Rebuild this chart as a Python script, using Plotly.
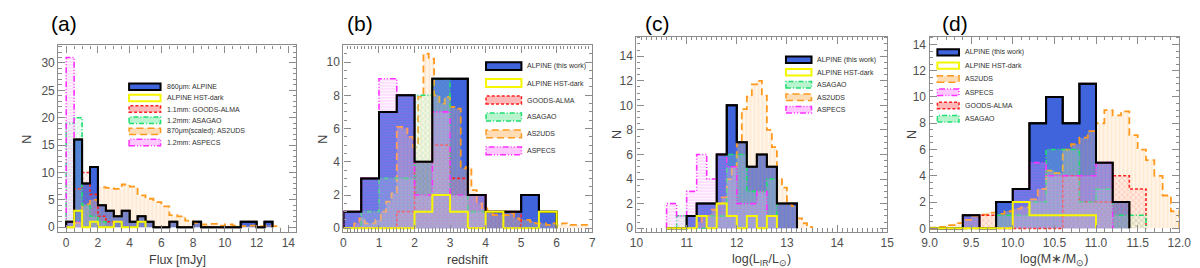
import numpy as np
import plotly.graph_objects as go

W, H = 1200, 268

# ---------------- data ----------------
# Panel (a): 860um / 1.1mm / 1.2mm flux, bins of 0.5 mJy from 0
flux_start, flux_width = 0.0, 0.5
flux_alpine = [1, 16, 8, 11, 4, 3, 2, 3, 1, 2, 1, 0, 0, 1, 0, 0, 1, 0, 0, 0, 0, 0, 1, 1, 0, 1]
flux_hstdark = [0, 3, 0, 1, 0, 0, 1, 0, 0, 1]
flux_goods = [1, 7, 10, 6, 2, 1]
flux_asagao = [19, 20, 4, 2, 1]
flux_aspecs = [31, 1]
flux_as2uds = [0, 0.8, 4.2, 5.0, 7.3, 7.2, 7.0, 7.8, 7.4, 5.8, 5.2, 4.6, 3.8, 2.2, 2.0, 1.2,
               0.8, 0.5, 0.6, 0.3, 0.5, 0.3, 0.2, 0.3, 0.2, 0.3, 0.2]

# Panel (b): redshift, bins of 0.5 from 0
z_start, z_width = 0.0, 0.5
z_alpine = [1, 3, 7, 8, 4, 9, 9, 2, 1, 1, 2, 1]
z_hstdark = [0, 0, 0, 0, 1, 2, 1, 0, 1, 0, 0, 1]
z_goods = [0, 0, 0, 1, 4, 5, 3, 2, 1, 1]
z_asagao = [0, 1, 3, 3, 8, 9, 2, 1]
z_aspecs = [1, 3, 9, 8, 2, 7, 2, 2]
z_as2uds_start, z_as2uds_width = 0.3, 0.15
z_as2uds = [0.3, 0.6, 0.3, 0.3, 0.5, 1.0, 1.6, 2.1, 6.1, 6.0, 5.5, 4.9, 7.9, 10.5, 10.2, 8.0,
            7.5, 7.9, 7.3, 7.2, 3.6, 3.7, 2.3, 1.5, 1.2, 1.0, 0.8, 0.8, 0.8, 0.9, 0.6, 0.5,
            0.5, 0.4, 0.3, 0.3, 0.2, 0.3, 0.2, 0.3, 0.2, 0.2, 0.2, 0.2]

# Panel (c): log(L_IR/Lsun), bins of 0.2 from 10.6
lir_start, lir_width = 10.6, 0.2
lir_alpine = [0, 0, 1, 2, 2, 6, 10, 7, 5, 6, 5, 2, 2]
lir_hstdark = [0, 0, 0, 1, 0, 2, 1, 0, 1, 0, 1]
lir_asagao = [0, 1, 0, 0, 1, 1, 6, 6, 3, 3, 4]
lir_aspecs = [2, 1, 3, 6, 4, 6, 5, 2, 2, 3, 1]
lir_as2uds_start, lir_as2uds_width = 11.2, 0.1
lir_as2uds = [0.5, 1.0, 1.0, 1.5, 2.0, 2.5, 4.0, 5.0, 7.0, 9.7, 10.7, 11.7, 12.0, 10.8, 8.0,
              6.6, 4.0, 3.3, 2.0, 1.8, 0.8, 0.4, 0.1]

# Panel (d): log(M*/Msun), bins of 0.2 from 9.0
ms_start, ms_width = 9.0, 0.2
ms_alpine = [0, 0, 1, 0, 2, 3, 8, 10, 8, 11, 5, 2]
ms_hstdark = [0, 0, 0, 0, 0, 2, 1, 1, 1, 1]
ms_aspecs = [0, 0, 1, 0, 0, 3, 5, 4, 4, 4, 5]
ms_goods = [0, 0, 0, 1, 0, 0, 0, 0, 4, 2, 2, 4, 3]
ms_asagao = [0, 0, 0, 0, 1, 1, 2, 6, 6, 2, 3, 1, 1]
ms_as2uds_start, ms_as2uds_width = 9.0, 0.1
ms_as2uds = [0.05, 0.1, 0.25, 0.4, 0.65, 0.95, 1.05, 1.2, 1.1, 1.3, 1.5, 1.6, 2.2, 3.0, 4.4,
             4.2, 6.0, 6.4, 6.9, 7.4, 8.0, 9.0, 8.6, 8.9, 7.1, 6.0, 5.2, 4.0, 2.5, 1.3]

legend_a = ["860μm: ALPINE", "ALPINE HST-dark", "1.1mm: GOODS-ALMA", "1.2mm: ASAGAO",
            "870μm(scaled): AS2UDS", "1.2mm: ASPECS"]
legend_b = ["ALPINE (this work)", "ALPINE HST-dark", "GOODS-ALMA", "ASAGAO", "AS2UDS", "ASPECS"]
legend_c = ["ALPINE (this work)", "ALPINE HST-dark", "ASAGAO", "AS2UDS", "ASPECS"]
legend_d = ["ALPINE (this work)", "ALPINE HST-dark", "AS2UDS", "ASPECS", "GOODS-ALMA", "ASAGAO"]

# ---------------- styles ----------------
BLUE = "#3f64dc"
STY = {
    "alpine": dict(lc="black", lw=2.0, dash="solid", swatch=BLUE),
    "hst": dict(lc="#f6f600", lw=2.0, dash="solid", swatch="white"),
    "goods": dict(lc="#ff2020", lw=1.6, dash="3px,2px", swatch="#ffb8b8",
                  pat=dict(shape="x", fgcolor="rgba(255,40,40,0.55)", bgcolor="rgba(255,190,190,0.12)",
                           size=4, solidity=0.25)),
    "asagao": dict(lc="#20dd70", lw=1.6, dash="5px,2px,1px,2px", swatch="#b8f5cf",
                   pat=dict(shape="x", fgcolor="rgba(40,215,110,0.55)", bgcolor="rgba(190,255,215,0.18)",
                            size=4, solidity=0.25)),
    "as2uds": dict(lc="#ff9a1e", lw=1.8, dash="7px,4px", swatch="#ffdcb4",
                   pat=dict(shape="|", fgcolor="rgba(255,160,70,0.45)", bgcolor="rgba(255,215,170,0.25)",
                            size=4, solidity=0.3)),
    "aspecs": dict(lc="#ff30ff", lw=1.6, dash="6px,2px,1px,2px,1px,2px", swatch="#ffc8ff",
                   pat=dict(shape="-", fgcolor="rgba(255,70,255,0.5)", bgcolor="rgba(255,205,255,0.2)",
                            size=3, solidity=0.3)),
}

fig = go.Figure()


def step_xy(start, width, counts):
    counts = np.asarray(counts, dtype=float)
    e = start + width * np.arange(len(counts) + 1)
    x = np.concatenate([[e[0]], e[:-1], [e[-1]]])
    y = np.concatenate([[0.0], counts, [0.0]])
    return x, y


def add_hist(key, start, width, counts, xa, ya, outline_only=False):
    s = STY[key]
    x, y = step_xy(start, width, counts)
    kw = dict(x=x, y=y, mode="lines", line=dict(color=s["lc"], width=s["lw"], dash=s["dash"], shape="hv"),
              xaxis=xa, yaxis=ya, showlegend=False, hoverinfo="skip")
    if not outline_only:
        if key == "alpine":
            kw.update(fill="tozeroy", fillcolor=BLUE)
        elif "pat" in s:
            kw.update(fill="tozeroy", fillcolor="rgba(0,0,0,0)", fillpattern=s["pat"])
    fig.add_trace(go.Scatter(**kw))


# panel (a)
add_hist("alpine", flux_start, flux_width, flux_alpine, "x", "y")
add_hist("as2uds", flux_start, flux_width, flux_as2uds, "x", "y")
add_hist("goods", flux_start, flux_width, flux_goods, "x", "y")
add_hist("asagao", flux_start, flux_width, flux_asagao, "x", "y")
add_hist("aspecs", flux_start, flux_width, flux_aspecs, "x", "y")
add_hist("alpine", flux_start, flux_width, flux_alpine, "x", "y", outline_only=True)
add_hist("hst", flux_start, flux_width, flux_hstdark, "x", "y")

# panel (b)
add_hist("alpine", z_start, z_width, z_alpine, "x2", "y2")
add_hist("as2uds", z_as2uds_start, z_as2uds_width, z_as2uds, "x2", "y2")
add_hist("goods", z_start, z_width, z_goods, "x2", "y2")
add_hist("asagao", z_start, z_width, z_asagao, "x2", "y2")
add_hist("aspecs", z_start, z_width, z_aspecs, "x2", "y2")
add_hist("alpine", z_start, z_width, z_alpine, "x2", "y2", outline_only=True)
add_hist("hst", z_start, z_width, z_hstdark, "x2", "y2")

# panel (c)
add_hist("alpine", lir_start, lir_width, lir_alpine, "x3", "y3")
add_hist("as2uds", lir_as2uds_start, lir_as2uds_width, lir_as2uds, "x3", "y3")
add_hist("asagao", lir_start, lir_width, lir_asagao, "x3", "y3")
add_hist("aspecs", lir_start, lir_width, lir_aspecs, "x3", "y3")
add_hist("alpine", lir_start, lir_width, lir_alpine, "x3", "y3", outline_only=True)
add_hist("hst", lir_start, lir_width, lir_hstdark, "x3", "y3")

# panel (d)
add_hist("alpine", ms_start, ms_width, ms_alpine, "x4", "y4")
add_hist("as2uds", ms_as2uds_start, ms_as2uds_width, ms_as2uds, "x4", "y4")
add_hist("goods", ms_start, ms_width, ms_goods, "x4", "y4")
add_hist("asagao", ms_start, ms_width, ms_asagao, "x4", "y4")
add_hist("aspecs", ms_start, ms_width, ms_aspecs, "x4", "y4")
add_hist("alpine", ms_start, ms_width, ms_alpine, "x4", "y4", outline_only=True)
add_hist("hst", ms_start, ms_width, ms_hstdark, "x4", "y4")

# ---------------- axes ----------------
def px(x):
    return x / W


def py(y):
    return 1 - y / H


FRAME = "#8c8c8c"
TICKFONT = dict(family="Liberation Sans, Arial, sans-serif", size=12, color="#505050")

panels = [
    # xaxis, yaxis, x-domain px, y-domain px, xrange, yrange, xdtick, xminor, ydtick, yminor
    ("xaxis", "yaxis", (43, 285), (38, 227), [-0.5, 14.5], [-0.8, 33.2], 2, 0.5, 5, 1),
    ("xaxis2", "yaxis2", (333, 586), (38, 227), [0, 7], [-0.2, 11.0], 1, 0.1, 2, 0.5),
    ("xaxis3", "yaxis3", (631, 886), (29, 227), [10, 15], [-0.28, 15.6], 1, 0.1, 2, 0.5),
    ("xaxis4", "yaxis4", (929, 1183), (29, 227), [9, 12], [-0.25, 14.6], 0.5, 0.1, 2, 0.5),
]
layout_axes = {}
for i, (xa, ya, xd, yd, xr, yr, xdt, xmn, ydt, ymn) in enumerate(panels):
    n = "" if i == 0 else str(i + 1)
    common = dict(showline=True, linecolor=FRAME, linewidth=1.2, mirror="allticks", ticks="inside",
                  ticklen=7, tickwidth=1, tickcolor=FRAME, showgrid=False, zeroline=False,
                  tickfont=TICKFONT)
    layout_axes[xa] = dict(common, domain=[px(xd[0]), px(xd[1])], range=xr, anchor="y" + n,
                           tick0=xr[0] if i > 0 else 0, dtick=xdt,
                           minor=dict(ticks="inside", ticklen=3.5, tickcolor=FRAME, dtick=xmn))
    layout_axes[ya] = dict(common, domain=[py(yd[1]), py(yd[0])], range=yr, anchor="x" + n,
                           tick0=0, dtick=ydt,
                           minor=dict(ticks="inside", ticklen=3.5, tickcolor=FRAME, dtick=ymn))
layout_axes["xaxis4"]["tickformat"] = ".1f"

# ---------------- annotations & legend swatches ----------------
ann = []
shapes = []
TITLEFONT = dict(family="Liberation Sans, Arial, sans-serif", size=12.5, color="#404040")

for lbl, cx in [("(a)", 49), ("(b)", 350), ("(c)", 652), ("(d)", 955)]:
    ann.append(dict(x=px(cx), y=py(16), xref="paper", yref="paper", text=lbl, showarrow=False,
                    font=dict(family="Liberation Sans, Arial, sans-serif", size=21, color="black"),
                    xanchor="center", yanchor="middle"))

xtitles = [("Flux [mJy]", 164), ("redshift", 460),
           ("log(L<sub>IR</sub>/L<sub>⊙</sub>)", 758), ("log(M∗/M<sub>⊙</sub>)", 1056)]
for t, cx in xtitles:
    ann.append(dict(x=px(cx), y=py(256), xref="paper", yref="paper", text=t, showarrow=False,
                    font=TITLEFONT, xanchor="center", yanchor="middle"))
for cx, cy in [(11, 133), (312, 133), (611, 128), (911, 128)]:
    ann.append(dict(x=px(cx), y=py(cy), xref="paper", yref="paper", text="N", showarrow=False,
                    font=TITLEFONT, textangle=-90, xanchor="center", yanchor="middle"))

LEGFONT = dict(family="Liberation Sans, Arial, sans-serif", size=7, color="#303030")


def add_legend(labels, keys, x0, x1, y0, dy, h, tx):
    for k, (lab, key) in enumerate(zip(labels, keys)):
        s = STY[key]
        yc = y0 + k * dy
        shapes.append(dict(type="rect", xref="paper", yref="paper",
                           x0=px(x0), x1=px(x1), y0=py(yc + h / 2), y1=py(yc - h / 2),
                           fillcolor=s["swatch"],
                           line=dict(color=s["lc"], width=s["lw"] if key in ("alpine", "hst") else 1.5,
                                     dash=s["dash"] if s["dash"] != "solid" else None)))
        ann.append(dict(x=px(tx), y=py(yc), xref="paper", yref="paper", text=lab, showarrow=False,
                        font=LEGFONT, xanchor="left", yanchor="middle"))


add_legend(legend_a, ["alpine", "hst", "goods", "asagao", "as2uds", "aspecs"], 115, 147, 80, 11.3, 6.5, 152)
add_legend(legend_b, ["alpine", "hst", "goods", "asagao", "as2uds", "aspecs"], 478, 514, 59, 17.2, 8, 518)
add_legend(legend_c, ["alpine", "hst", "asagao", "as2uds", "aspecs"], 783, 809, 52.5, 12.7, 6.5, 813)
add_legend(legend_d, ["alpine", "hst", "as2uds", "aspecs", "goods", "asagao"], 937, 959, 45, 13.5, 6.5, 963)

fig.update_layout(width=W, height=H, margin=dict(l=0, r=0, t=0, b=0),
                  plot_bgcolor="white", paper_bgcolor="white", showlegend=False,
                  annotations=ann, shapes=shapes, **layout_axes)

fig.write_html("out.html")
